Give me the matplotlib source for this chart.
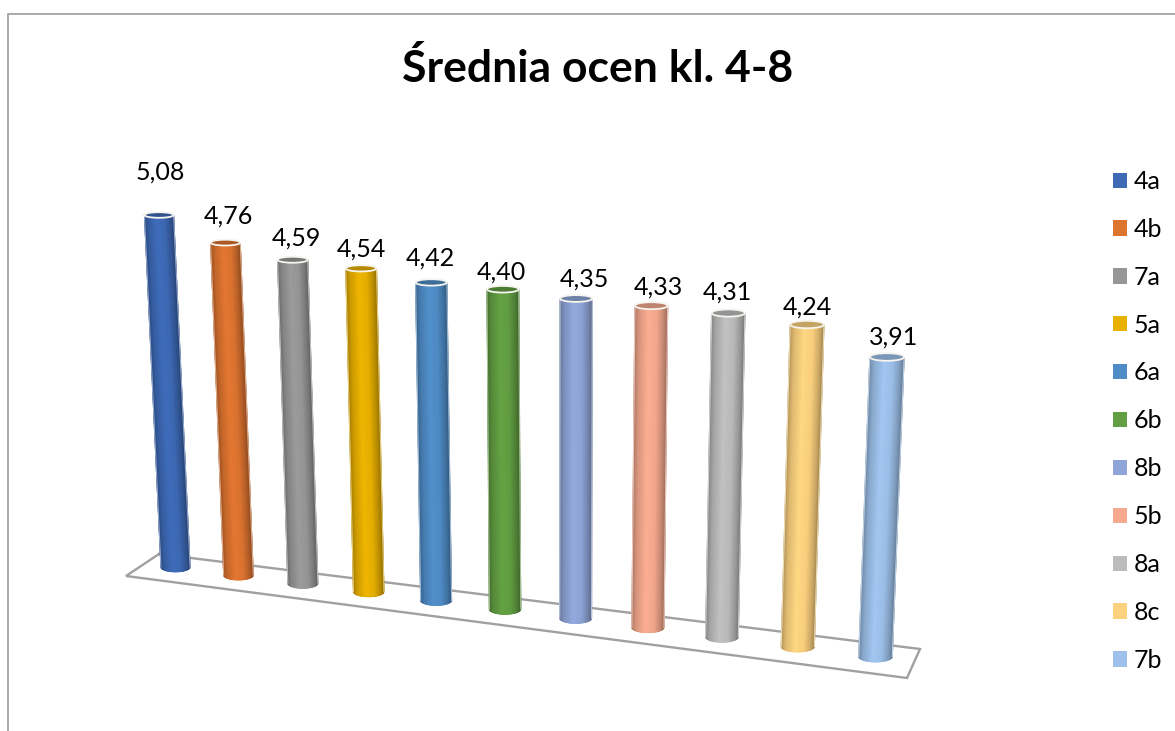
import matplotlib
matplotlib.use("Agg")
import matplotlib.pyplot as plt
import numpy as np
from matplotlib.colors import LinearSegmentedColormap, to_rgb
from matplotlib.patches import Ellipse, Patch

plt.rcParams['font.family'] = ['Lato', 'DejaVu Sans']

classes = ["4a", "4b", "7a", "5a", "6a", "6b", "8b", "5b", "8a", "8c", "7b"]
averages = [5.08, 4.76, 4.59, 4.54, 4.42, 4.40, 4.35, 4.33, 4.31, 4.24, 3.91]
colors = ["#3d69b5", "#dd7430", "#979797", "#e8b000", "#4f8cc6", "#629e42",
          "#8fa5d8", "#f5a98e", "#bcbcbc", "#fdd27f", "#9dc1ea"]
# hand placed data labels, pixels away from the top of each cylinder
label_dx = [1, 3, 4, 0, -1, -1, 8, 7, -1, 0, 7]
label_dy = [-43, -27, -22, -19, -24, -17, -19, -19, -21, -17, -20]

W, H = 1175, 731

# perspective of the 3d chart: (category, value) -> pixel on the picture
src = [(0, 0), (10, 0), (0, 5.08), (10, 3.91)]
dst = [(175.5, 567), (875.5, 656.5), (159, 215), (887, 357)]
A = []
b = []
for (u, v), (x, y) in zip(src, dst):
    A.append([u, v, 1, 0, 0, 0, -u * x, -v * x])
    A.append([0, 0, 0, u, v, 1, -u * y, -v * y])
    b += [x, y]
h = np.linalg.solve(np.array(A, dtype=float), np.array(b, dtype=float))


def project(u, v):
    d = h[6] * u + h[7] * v + 1
    return (h[0] * u + h[1] * v + h[2]) / d, (h[3] * u + h[4] * v + h[5]) / d


def shade(c, f):
    return tuple(np.clip(np.array(to_rgb(c)) * f, 0, 1))


def cylinder(ax, i, value, color):
    x0, y0 = project(i, 0)
    x1, y1 = project(i, value)
    r0 = 14.6 + 0.22 * i
    r1 = 14.6 + 0.26 * i
    b0 = 4.8 + 0.06 * i
    b1 = 2.8 + 0.1 * i
    u = np.linspace(-1, 1, 61)
    arc = np.sqrt(1 - u ** 2)
    X = np.vstack([x0 + r0 * u, x1 + r1 * u])
    Y = np.vstack([y0 + b0 * arc, y1 + b1 * arc])
    C = np.vstack([u, u])
    cmap = LinearSegmentedColormap.from_list("c", [
        (0.0, shade(color, 0.7)), (0.14, shade(color, 0.88)),
        (0.42, shade(color, 1.03)), (0.7, shade(color, 0.98)),
        (0.9, shade(color, 0.8)), (1.0, shade(color, 0.66))])
    ax.pcolormesh(X, Y, C, cmap=cmap, vmin=-1, vmax=1, shading='gouraud', zorder=3)
    pale = tuple(0.4 * np.array(to_rgb(color)) + 0.6)
    ax.plot(X[:, 0], Y[:, 0], color=pale, lw=0.8, alpha=0.8, zorder=4)
    ax.plot(X[:, -1], Y[:, -1], color=pale, lw=0.8, alpha=0.8, zorder=4)
    ax.plot(X[0], Y[0], color=pale, lw=0.8, zorder=2.9)
    cap = Ellipse((x1, y1), 2 * r1, 2 * b1, facecolor=shade(color, 0.78),
                  edgecolor="#f6f4ee", lw=1.3, zorder=5)
    ax.add_patch(cap)
    return x1, y1


fig = plt.figure(figsize=(W / 100, H / 100), dpi=100)
ax = fig.add_axes([0, 0, 1, 1])
ax.set_xlim(0, W)
ax.set_ylim(H, 0)
ax.axis("off")

# chart frame, only top and left are in the crop
ax.plot([8, 8, W], [H, 14, 14], color="#a3a3a3", lw=1.3, zorder=1)

# floor of the 3d chart
floor_x = [159, 126, 907, 920, 159]
floor_y = [554, 576, 678, 649, 554]
ax.plot(floor_x, floor_y, color="#a0a0a0", lw=1.7, zorder=2, solid_joinstyle="miter")

ax.text(598, 69, "Średnia ocen kl. 4-8", fontsize=32, fontweight="bold",
        ha="center", va="center", color="black")

for i in range(len(classes)):
    tx, ty = cylinder(ax, i, averages[i], colors[i])
    ax.text(tx + label_dx[i], ty + label_dy[i], ("%.2f" % averages[i]).replace(".", ","),
            fontsize=18, ha="center", va="center", color="black", zorder=6)

handles = [Patch(facecolor=c, edgecolor="none") for c in colors]
ax.legend(handles, classes, loc="upper left", bbox_to_anchor=(1113 / W, 1 - 170 / H),
          frameon=False, fontsize=18, handlelength=0.56, handleheight=0.56,
          handletextpad=0.28, labelspacing=0.995, borderpad=0, borderaxespad=0)

plt.savefig("out.png", dpi=100)
